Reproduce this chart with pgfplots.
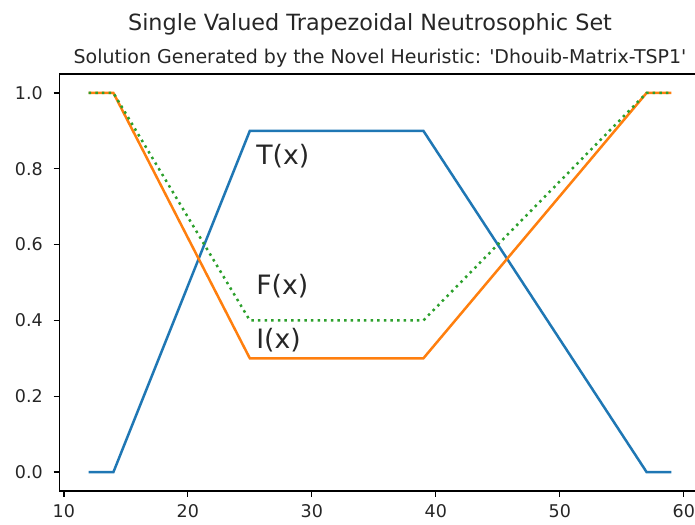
\documentclass[border=0pt]{standalone}
\usepackage{fontspec}
\setmainfont{DejaVu Sans}[Ligatures=TeXOff]
\usepackage{pgfplots}
\pgfplotsset{compat=1.18}
\definecolor{mblue}{HTML}{1F77B4}
\definecolor{morange}{HTML}{FF7F0E}
\definecolor{mgreen}{HTML}{2CA02C}
\begin{document}
\begin{tikzpicture}
\begin{axis}[name=ax, at={(0,0)}, anchor=south west,
  scale only axis, width=384.6pt, height=250.2pt,
  xmin=9.65, xmax=61.35, ymin=-0.05, ymax=1.05,
  xtick={10,20,30,40,50,60}, ytick={0,0.2,0.4,0.6,0.8,1.0},
  y tick label style={/pgf/number format/fixed, /pgf/number format/fixed zerofill, /pgf/number format/precision=1},
  /pgf/number format/assume math mode=true,
  tick label style={font=\fontsize{10.5}{12}\selectfont, text=black!85},
  tick align=outside, tick pos=left, major tick length=3.5pt,
  tick style={black, line width=0.8pt},
  axis line style={black, line width=0.8pt},
  xticklabel style={yshift=-1pt},
  yticklabel style={xshift=-3pt},
  clip=false,
]
\addplot[mblue, line width=1.5pt] coordinates {(12,0) (14,0) (25,0.9) (39,0.9) (57,0) (59,0)};
\addplot[morange, line width=1.5pt] coordinates {(12,1) (14,1) (25,0.3) (39,0.3) (57,1) (59,1)};
\addplot[mgreen, line width=1.5pt, dash pattern=on 1.5pt off 2.475pt] coordinates {(12,1) (14,1) (25,0.4) (39,0.4) (57,1) (59,1)};
\node[anchor=base west, inner sep=0pt, font=\fontsize{16}{19}\selectfont, text=black!85] at (axis cs:25.5,0.81) {T(x)};
\node[anchor=base west, inner sep=0pt, font=\fontsize{16}{19}\selectfont, text=black!85] at (axis cs:25.5,0.468) {F(x)};
\node[anchor=base west, inner sep=0pt, font=\fontsize{16}{19}\selectfont, text=black!85] at (axis cs:25.5,0.326) {I(x)};
\end{axis}
\node[anchor=base, inner sep=0pt, font=\fontsize{11.4}{13}\selectfont, text=black!85] at ([yshift=6pt]ax.north) {Solution Generated by the Novel Heuristic: 'Dhouib-Matrix-TSP1'};
\node[anchor=base, inner sep=0pt, font=\fontsize{13.4}{16}\selectfont, text=black!85] at ([xshift=-6pt,yshift=26pt]ax.north) {Single Valued Trapezoidal Neutrosophic Set};
\pgfresetboundingbox
\path[use as bounding box] ([shift={(-35.7pt,-20.4pt)}]ax.south west) rectangle ([shift={(381.3pt,294.6pt)}]ax.south west);
\end{tikzpicture}
\end{document}
